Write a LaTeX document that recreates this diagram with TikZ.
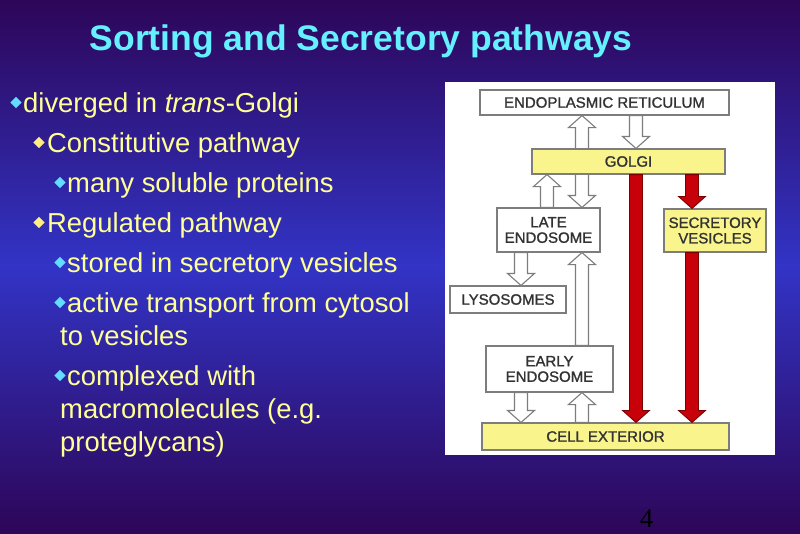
\documentclass[tikz,border=0pt]{standalone}
\usepackage{fontspec}
\setmainfont{Liberation Sans}
\newfontfamily\pagefont{Liberation Serif}
\newfontfamily\boxfont[FakeBold=1.2]{Liberation Sans}
\usetikzlibrary{calc,positioning,shapes.geometric}
\definecolor{slidedark}{RGB}{45,6,88}
\definecolor{slidemid}{RGB}{50,52,198}
\definecolor{titlecyan}{RGB}{100,240,255}
\definecolor{textyellow}{RGB}{255,255,150}
\definecolor{bulletcyan}{RGB}{100,220,255}
\definecolor{bulletyellow}{RGB}{255,238,130}
\definecolor{boxyellow}{RGB}{250,244,140}
\definecolor{boxline}{RGB}{125,125,125}
\definecolor{boxtext}{RGB}{50,50,50}
\definecolor{secred}{RGB}{200,0,10}
\definecolor{secredline}{RGB}{120,0,0}
\pgfdeclarelayer{back}
\pgfdeclarelayer{under}
\pgfsetlayers{back,under,main}
\tikzset{
  box/.style={draw=boxline, line width=1.1pt, fill=white, text=boxtext,
    font=\boxfont\fontsize{15}{15.5}\selectfont, align=center, inner sep=0pt},
  ybox/.style={box, fill=boxyellow},
  blockshape/.style={to path={(\tikztostart) coordinate (s) (\tikztotarget) coordinate (t)
    ($(t)!12pt!(s)$) coordinate (h)
    ($(s)!6.5pt!90:(t)$) -- ($(h)!6.5pt!90:(t)$) -- ($(h)!13.5pt!90:(t)$) -- (t)
    -- ($(h)!13.5pt!-90:(t)$) -- ($(h)!6.5pt!-90:(t)$) -- ($(s)!6.5pt!-90:(t)$) -- cycle}},
  twoshape/.style={to path={(\tikztostart) coordinate (s) (\tikztotarget) coordinate (t)
    ($(t)!12pt!(s)$) coordinate (ht) ($(s)!12pt!(t)$) coordinate (hs)
    (s) -- ($(hs)!13.5pt!90:(t)$) -- ($(hs)!6.5pt!90:(t)$) -- ($(ht)!6.5pt!90:(t)$)
    -- ($(ht)!13.5pt!90:(t)$) -- (t) -- ($(ht)!13.5pt!-90:(t)$) -- ($(ht)!6.5pt!-90:(t)$)
    -- ($(hs)!6.5pt!-90:(t)$) -- ($(hs)!13.5pt!-90:(t)$) -- cycle}},
  hollow/.style={blockshape, draw=boxline, line width=1.1pt, fill=white},
  hollowboth/.style={twoshape, draw=boxline, line width=1.1pt, fill=white},
  redarrow/.style={blockshape, draw=secredline, line width=0.9pt, fill=secred},
  bullet/.style={diamond, inner sep=0pt, minimum size=11.5pt},
  line/.style={anchor=base west, inner sep=0pt, text=textyellow,
    font=\fontsize{27.4}{33}\selectfont}
}

\begin{document}
\begin{tikzpicture}[x=1pt, y=-1pt]
\useasboundingbox (0,0) rectangle (800,533);
% slide and panel
\begin{pgfonlayer}{back}
\foreach \i in {0,2,...,532} {
  \pgfmathsetmacro\mix{100*(1-abs(\i-266)/266)}
  \fill[slidemid!\mix!slidedark] (0,\i) rectangle (800,\i+2.6);
}
\fill[white] (445,82) rectangle (775,455);
\end{pgfonlayer}
% title
\node[anchor=base, inner sep=0pt, text=titlecyan, font=\fontsize{35.5}{40}\bfseries] (title) at (361,50) {Sorting and Secretory pathways};
% bullets
\node[bullet, fill=bulletcyan] (b1) at (16,102.5) {};
\node[line] (t1) at (23,112) {diverged in \textit{trans}-Golgi};
\node[bullet, fill=bulletyellow] (b2) at (39,142.5) {};
\node[line] (t2) at (47,152) {Constitutive pathway};
\node[bullet, fill=bulletcyan] (b3) at (60,182.5) {};
\node[line] (t3) at (67,192) {many soluble proteins};
\node[bullet, fill=bulletyellow] (b4) at (39,222.5) {};
\node[line] (t4) at (47,232) {Regulated pathway};
\node[bullet, fill=bulletcyan] (b5) at (60,262.5) {};
\node[line] (t5) at (67,272) {stored in secretory vesicles};
\node[bullet, fill=bulletcyan] (b6) at (60,302.5) {};
\node[line] (t6) at (67,312) {active transport from cytosol};
\node[line] (t6b) at (60,345) {to vesicles};
\node[bullet, fill=bulletcyan] (b7) at (60,375.5) {};
\node[line] (t7) at (67,385) {complexed with};
\node[line] (t7b) at (60,418) {macromolecules (e.g.};
\node[line] (t7c) at (60,451) {proteglycans)};
% boxes
\node[box, minimum width=249pt, minimum height=25pt] (er) at (604.5,102.5) {ENDOPLASMIC RETICULUM};
\node[ybox, minimum width=193pt, minimum height=25pt] (golgi) at (628.5,161.5) {GOLGI};
\node[box, minimum width=103pt, minimum height=44pt] (late) at (548.5,230) {LATE\\ENDOSOME};
\node[ybox, minimum width=102pt, minimum height=43pt] (sec) at (715,230.5) {SECRETORY\\VESICLES};
\node[box, minimum width=116pt, minimum height=27pt] (lyso) at (508,299.5) {LYSOSOMES};
\node[box, minimum width=127pt, minimum height=46pt] (early) at (549.5,369) {EARLY\\ENDOSOME};
\node[ybox, minimum width=247pt, minimum height=27pt] (cell) at (605.5,436.5) {CELL EXTERIOR};
% arrow columns
\coordinate (xlys) at (521,0);
\coordinate (xlate) at (547,0);
\coordinate (xmid) at (582,0);
\coordinate (xgolgi) at (636,0);
\coordinate (xsec) at (692,0);
% arrows
\begin{pgfonlayer}{under}
\draw[hollowboth] (er.south -| xmid) to (late.north -| xmid);
\end{pgfonlayer}
\draw[hollow] (er.south -| xgolgi) to (golgi.north -| xgolgi);
\draw[hollow] (late.north -| xlate) to (golgi.south -| xlate);
\draw[hollow] (late.south -| xlys) to (lyso.north -| xlys);
\draw[hollow] (early.north -| xmid) to (late.south -| xmid);
\draw[hollow] (early.south -| xlys) to (cell.north -| xlys);
\draw[hollow] (cell.north -| xmid) to (early.south -| xmid);
\draw[redarrow] (golgi.south -| xgolgi) to (cell.north -| xgolgi);
\draw[redarrow] (golgi.south -| xsec) to (sec.north -| xsec);
\draw[redarrow] (sec.south -| xsec) to (cell.north -| xsec);
% page number
\node[anchor=base, inner sep=0pt, font=\pagefont\fontsize{27}{30}\selectfont] (page) at (646.5,527) {4};
\end{tikzpicture}
\end{document}
